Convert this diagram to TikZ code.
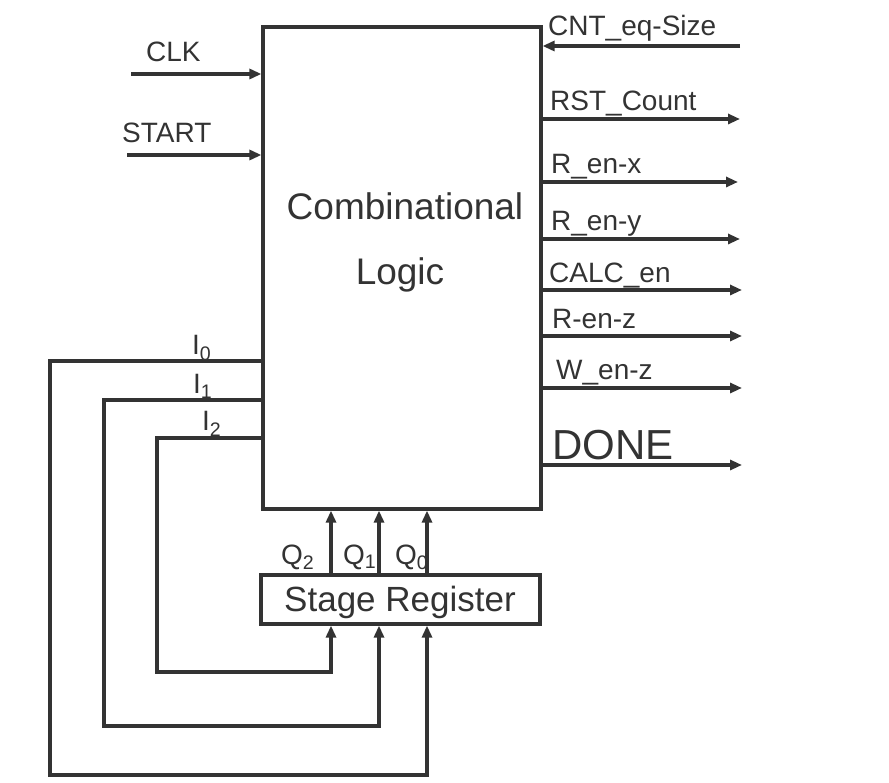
\documentclass[tikz,border=0pt]{standalone}
\usepackage{fontspec}
\setmainfont{Liberation Sans}
\usetikzlibrary{arrows.meta}
\definecolor{ink}{HTML}{333333}

\tikzset{
    block/.style={draw=ink, line width=3.2pt, inner sep=0pt},
    wire/.style={draw=ink, line width=3.2pt},
    lbl/.style={text=ink, anchor=base west, inner sep=0pt, font=\fontsize{28}{30}\selectfont}
}

\begin{document}
\begin{tikzpicture}[x=1pt, y=-1pt, >={Triangle[length=12pt,width=10pt]}]

    \useasboundingbox (0,0) rectangle (889,783);

    % Blocks
    \node[block, minimum width=278pt, minimum height=482pt] (logic) at (402,268) {};
    \node[block, minimum width=279pt, minimum height=49pt] (reg) at (400.5,599.5) {};

    % Block texts
    \node[text=ink, font=\fontsize{37}{40}\selectfont, anchor=base] (comb) at (405,220) {Combinational};
    \node[text=ink, font=\fontsize{37}{40}\selectfont, anchor=base] (logictxt) at (400,285) {Logic};
    \node[text=ink, font=\fontsize{35}{38}\selectfont, anchor=base] (regtxt) at (400,611) {Stage Register};

    % Inputs
    \coordinate (clk) at (131,74);
    \coordinate (start) at (127,155);
    \coordinate (cnt) at (740,46);
    \draw[wire, ->] (clk) -- (clk -| logic.west);
    \draw[wire, ->] (start) -- (start -| logic.west);
    \draw[wire, ->] (cnt) -- (cnt -| logic.east);
    \node[lbl] (clklbl) at (146,62) {CLK};
    \node[lbl] (startlbl) at (122,143) {START};
    \node[lbl] (cntlbl) at (548,36) {CNT\_eq-Size};

    % Outputs
    \coordinate (rst) at (740,119);
    \coordinate (renx) at (738,182);
    \coordinate (reny) at (740,239);
    \coordinate (calc) at (742,290);
    \coordinate (renz) at (742,336);
    \coordinate (wenz) at (742,388);
    \coordinate (done) at (742,465);
    \draw[wire, ->] (logic.east |- rst) -- (rst);
    \draw[wire, ->] (logic.east |- renx) -- (renx);
    \draw[wire, ->] (logic.east |- reny) -- (reny);
    \draw[wire, ->] (logic.east |- calc) -- (calc);
    \draw[wire, ->] (logic.east |- renz) -- (renz);
    \draw[wire, ->] (logic.east |- wenz) -- (wenz);
    \draw[wire, ->] (logic.east |- done) -- (done);
    \node[lbl] (rstlbl) at (550,111) {RST\_Count};
    \node[lbl] (renxlbl) at (551,174) {R\_en-x};
    \node[lbl] (renylbl) at (551,231) {R\_en-y};
    \node[lbl] (calclbl) at (549,283) {CALC\_en};
    \node[lbl] (renzlbl) at (552,329) {R-en-z};
    \node[lbl] (wenzlbl) at (556,380) {W\_en-z};
    \node[lbl, font=\fontsize{42}{44}\selectfont] (donelbl) at (552,459) {DONE};

    % Stage register outputs
    \coordinate (c0) at (50,361);
    \coordinate (c1) at (104,400);
    \coordinate (c2) at (157,438);
    \coordinate (b0) at (427,775);
    \coordinate (b1) at (379,726);
    \coordinate (b2) at (331,672);
    \draw[wire, ->] (reg.north -| b0) -- (logic.south -| b0);
    \draw[wire, ->] (reg.north -| b1) -- (logic.south -| b1);
    \draw[wire, ->] (reg.north -| b2) -- (logic.south -| b2);
    \node[lbl] (q2lbl) at (281,564) {Q\textsubscript{2}};
    \node[lbl] (q1lbl) at (343,564) {Q\textsubscript{1}};
    \node[lbl] (q0lbl) at (395,564) {Q\textsubscript{0}};

    % Feedback
    \draw[wire, ->] (logic.west |- c0) -- (c0) |- (b0) -- (reg.south -| b0);
    \draw[wire, ->] (logic.west |- c1) -- (c1) |- (b1) -- (reg.south -| b1);
    \draw[wire, ->] (logic.west |- c2) -- (c2) |- (b2) -- (reg.south -| b2);
    \node[lbl] (i0lbl) at (192,355) {I\textsubscript{0}};
    \node[lbl] (i1lbl) at (193,394) {I\textsubscript{1}};
    \node[lbl] (i2lbl) at (202,431) {I\textsubscript{2}};

\end{tikzpicture}
\end{document}
